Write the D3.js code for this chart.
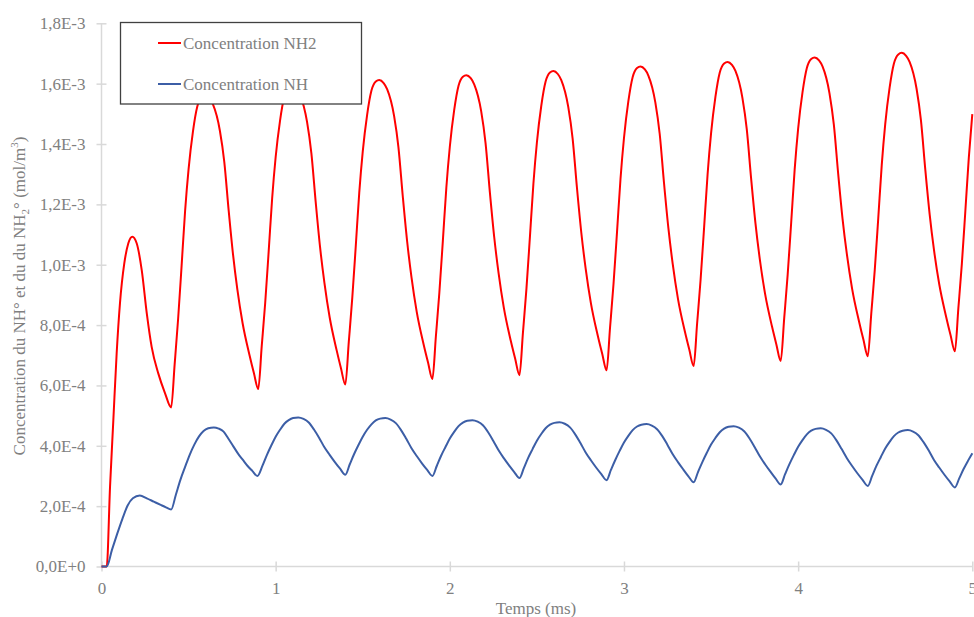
<!DOCTYPE html>
<html>
<head>
<meta charset="utf-8">
<script src="https://cdn.jsdelivr.net/npm/d3@7"></script>
<style>
  html, body { margin: 0; padding: 0; background: #fff; }
  svg { display: block; }
  text { font-family: "Liberation Serif", "DejaVu Serif", serif; }
</style>
</head>
<body>
<svg id="chart" width="974" height="617"></svg>
<script>
// ---- Data (time in ms, concentration in units of 1E-4 mol/m³) ----
const seriesNames = ["Concentration NH2", "Concentration NH"];
const xTicks = [0, 1, 2, 3, 4, 5];
const yTicks = [0, 2, 4, 6, 8, 10, 12, 14, 16, 18];
const yTickLabels = ["0,0E+0", "2,0E-4", "4,0E-4", "6,0E-4", "8,0E-4", "1,0E-3", "1,2E-3", "1,4E-3", "1,6E-3", "1,8E-3"];

const nh2 = [
  [0,0],[0.03,0],[0.049,2.64],[0.068,4.85],[0.087,7.06],[0.106,8.72],[0.131,10.05],[0.154,10.71],[0.177,10.93],[0.202,10.71],[0.231,9.82],[0.26,8.39],[0.288,7.28],[0.326,6.40],[0.365,5.74],[0.40,5.27],
  [0.42,6.70],[0.44,8.21],[0.46,9.97],[0.48,11.78],[0.50,13.17],[0.525,14.41],[0.55,15.24],[0.575,15.55],[0.595,15.6],[0.62,15.50],[0.64,15.31],[0.68,14.43],[0.705,13.41],[0.73,11.81],[0.755,10.35],[0.78,9.18],[0.81,8.07],[0.85,7.0],[0.875,6.41],[0.90,5.88],
  [0.92,7.30],[0.94,8.74],[0.96,10.45],[0.98,12.21],[1.00,13.57],[1.025,14.77],[1.05,15.58],[1.075,15.88],[1.095,15.93],[1.12,15.83],[1.14,15.63],[1.18,14.74],[1.205,13.70],[1.23,12.07],[1.255,10.58],[1.28,9.40],[1.31,8.26],[1.35,7.17],[1.375,6.57],[1.40,6.03],
  [1.42,7.45],[1.44,8.91],[1.46,10.62],[1.48,12.39],[1.50,13.75],[1.525,14.96],[1.55,15.77],[1.575,16.07],[1.595,16.12],[1.62,16.02],[1.64,15.82],[1.68,14.93],[1.705,13.89],[1.73,12.26],[1.755,10.77],[1.78,9.58],[1.81,8.44],[1.85,7.35],[1.875,6.76],[1.90,6.21],
  [1.92,7.63],[1.94,9.08],[1.96,10.79],[1.98,12.55],[2.00,13.91],[2.025,15.12],[2.05,15.93],[2.075,16.23],[2.095,16.28],[2.12,16.18],[2.14,15.98],[2.18,15.09],[2.205,14.04],[2.23,12.40],[2.255,10.91],[2.28,9.72],[2.31,8.58],[2.35,7.48],[2.375,6.89],[2.40,6.34],
  [2.42,7.76],[2.44,9.21],[2.46,10.93],[2.48,12.69],[2.50,14.05],[2.525,15.26],[2.55,16.07],[2.575,16.37],[2.595,16.42],[2.62,16.32],[2.64,16.12],[2.68,15.23],[2.705,14.19],[2.73,12.55],[2.755,11.06],[2.78,9.87],[2.81,8.73],[2.85,7.64],[2.875,7.05],[2.90,6.50],
  [2.92,7.92],[2.94,9.37],[2.96,11.08],[2.98,12.84],[3.00,14.20],[3.025,15.41],[3.05,16.22],[3.075,16.52],[3.095,16.57],[3.12,16.47],[3.14,16.27],[3.18,15.38],[3.205,14.34],[3.23,12.70],[3.255,11.21],[3.28,10.02],[3.31,8.87],[3.35,7.78],[3.375,7.19],[3.40,6.64],
  [3.42,8.06],[3.44,9.51],[3.46,11.23],[3.48,12.99],[3.50,14.35],[3.525,15.56],[3.55,16.37],[3.575,16.67],[3.595,16.72],[3.62,16.62],[3.64,16.42],[3.68,15.53],[3.705,14.49],[3.73,12.86],[3.755,11.37],[3.78,10.18],[3.81,9.04],[3.85,7.95],[3.875,7.36],[3.90,6.81],
  [3.92,8.23],[3.94,9.68],[3.96,11.39],[3.98,13.15],[4.00,14.51],[4.025,15.71],[4.05,16.52],[4.075,16.82],[4.095,16.87],[4.12,16.77],[4.14,16.57],[4.18,15.68],[4.205,14.64],[4.23,13.01],[4.255,11.52],[4.28,10.34],[4.31,9.20],[4.35,8.11],[4.375,7.51],[4.40,6.97],
  [4.42,8.39],[4.44,9.83],[4.46,11.54],[4.48,13.30],[4.50,14.66],[4.525,15.86],[4.55,16.67],[4.575,16.97],[4.595,17.02],[4.62,16.92],[4.64,16.72],[4.68,15.83],[4.705,14.79],[4.73,13.16],[4.755,11.68],[4.78,10.49],[4.81,9.36],[4.85,8.27],[4.875,7.67],[4.90,7.13],
  [4.92,8.56],[4.94,10.03],[4.96,11.77],[4.98,13.55],[5.00,14.99]
];

const nh = [
  [0,0],[0.03,0],[0.06,0.55],[0.09,1.08],[0.12,1.58],[0.15,2.02],[0.18,2.26],[0.22,2.35],[0.26,2.26],[0.30,2.15],[0.34,2.04],[0.37,1.96],[0.40,1.89],
  [0.427,2.38],[0.453,2.87],[0.48,3.30],[0.507,3.71],[0.533,4.04],[0.56,4.31],[0.586,4.49],[0.613,4.58],[0.645,4.61],[0.673,4.57],[0.701,4.47],[0.728,4.24],[0.756,3.99],[0.784,3.74],[0.812,3.53],[0.839,3.33],[0.867,3.16],[0.895,3.00],
  [0.925,3.35],[0.95,3.70],[0.975,4.01],[1.00,4.30],[1.025,4.53],[1.05,4.73],[1.075,4.85],[1.10,4.92],[1.13,4.94],[1.16,4.89],[1.19,4.77],[1.22,4.54],[1.25,4.26],[1.28,3.95],[1.31,3.70],[1.34,3.46],[1.37,3.24],[1.40,3.04],
  [1.425,3.38],[1.45,3.72],[1.475,4.02],[1.50,4.30],[1.525,4.53],[1.55,4.71],[1.575,4.84],[1.60,4.90],[1.63,4.92],[1.66,4.87],[1.69,4.75],[1.72,4.52],[1.75,4.23],[1.78,3.92],[1.81,3.66],[1.84,3.42],[1.87,3.20],[1.90,3.00],
  [1.925,3.33],[1.95,3.67],[1.975,3.96],[2.00,4.24],[2.025,4.46],[2.05,4.65],[2.075,4.77],[2.10,4.83],[2.13,4.85],[2.16,4.80],[2.19,4.68],[2.22,4.45],[2.25,4.16],[2.28,3.85],[2.31,3.59],[2.34,3.35],[2.37,3.13],[2.40,2.93],
  [2.425,3.26],[2.45,3.60],[2.475,3.89],[2.50,4.17],[2.525,4.39],[2.55,4.58],[2.575,4.70],[2.60,4.76],[2.63,4.78],[2.66,4.73],[2.69,4.61],[2.72,4.38],[2.75,4.09],[2.78,3.78],[2.81,3.52],[2.84,3.28],[2.87,3.06],[2.90,2.86],
  [2.925,3.20],[2.95,3.53],[2.975,3.83],[3.00,4.11],[3.025,4.33],[3.05,4.52],[3.075,4.64],[3.10,4.70],[3.13,4.72],[3.16,4.67],[3.19,4.55],[3.22,4.32],[3.25,4.03],[3.28,3.72],[3.31,3.46],[3.34,3.22],[3.37,2.99],[3.40,2.79],
  [3.425,3.13],[3.45,3.46],[3.475,3.76],[3.50,4.04],[3.525,4.26],[3.55,4.45],[3.575,4.57],[3.60,4.63],[3.63,4.65],[3.66,4.60],[3.69,4.48],[3.72,4.25],[3.75,3.96],[3.78,3.65],[3.81,3.39],[3.84,3.15],[3.87,2.92],[3.90,2.72],
  [3.925,3.06],[3.95,3.39],[3.975,3.69],[4.00,3.97],[4.025,4.19],[4.05,4.38],[4.075,4.50],[4.10,4.56],[4.13,4.58],[4.16,4.53],[4.19,4.41],[4.22,4.18],[4.25,3.89],[4.28,3.59],[4.31,3.33],[4.34,3.09],[4.37,2.87],[4.40,2.67],
  [4.425,3.00],[4.45,3.34],[4.475,3.63],[4.50,3.91],[4.525,4.13],[4.55,4.32],[4.575,4.44],[4.60,4.50],[4.63,4.52],[4.66,4.47],[4.69,4.35],[4.72,4.12],[4.75,3.84],[4.78,3.53],[4.81,3.28],[4.84,3.04],[4.87,2.82],[4.90,2.62],
  [4.925,2.92],[4.95,3.23],[4.975,3.50],[5.00,3.75]
];

// ---- Layout ----
const svg = d3.select("#chart");
const x0 = 101.5, x1 = 972.3, yBot = 566.5, yTop = 23.3;
const x = d3.scaleLinear().domain([0, 5]).range([x0, x1]);
const y = d3.scaleLinear().domain([0, 18]).range([yBot, yTop]);
const textColor = "#808080";
const axisColor = "#d9d9d9";

// Y axis
const yAxis = svg.append("g").attr("transform", `translate(${x0},0)`)
  .call(d3.axisLeft(y).tickValues(yTicks).tickSize(5).tickPadding(11)
        .tickFormat((d, i) => yTickLabels[i]));
yAxis.select(".domain").attr("stroke", axisColor).attr("stroke-width", 1.5).attr("d", `M0,${yBot}V${yTop}`);
yAxis.selectAll(".tick line").attr("stroke", axisColor).attr("stroke-width", 1.5).attr("x2", 5).attr("x1", -5);
yAxis.selectAll(".tick text").attr("fill", textColor).style("font-size", "17px")
  .style("font-family", "'Liberation Serif', serif");

// X axis
const xAxis = svg.append("g").attr("transform", `translate(0,${yBot})`)
  .call(d3.axisBottom(x).tickValues(xTicks).tickSize(5).tickPadding(10).tickFormat(d3.format("d")));
xAxis.select(".domain").attr("stroke", axisColor).attr("stroke-width", 1.5).attr("d", `M${x0},0H${x1}`);
xAxis.selectAll(".tick line").attr("stroke", axisColor).attr("stroke-width", 1.5).attr("y1", -5).attr("y2", 5);
xAxis.selectAll(".tick text").attr("fill", textColor).style("font-size", "17px")
  .style("font-family", "'Liberation Serif', serif");

// Axis titles
svg.append("text").attr("x", 536).attr("y", 614)
  .attr("text-anchor", "middle").attr("fill", textColor).style("font-size", "17px")
  .text("Temps (ms)");

const yt = svg.append("text")
  .attr("transform", "translate(25,296) rotate(-90)")
  .attr("text-anchor", "middle").attr("fill", textColor).style("font-size", "17px");
yt.append("tspan").text("Concentration du NH° et du du NH");
yt.append("tspan").attr("dy", 4).style("font-size", "11px").text("2");
yt.append("tspan").attr("dy", -4).text("° (mol/m");
yt.append("tspan").attr("dy", -7).style("font-size", "11px").text("3");
yt.append("tspan").attr("dy", 7).text(")");

// Lines
const line = d3.line().x(d => x(d[0])).y(d => y(d[1])).curve(d3.curveMonotoneX);
const colors = ["#ff0000", "#3c5ea6"];
[nh2, nh].forEach((s, i) => {
  svg.append("path").datum(s).attr("d", line)
    .attr("fill", "none").attr("stroke", colors[i]).attr("stroke-width", 2)
    .attr("stroke-linejoin", "round");
});

// Legend
const lg = svg.append("g");
lg.append("rect").attr("x", 120.5).attr("y", 22.5).attr("width", 241).attr("height", 81.5)
  .attr("fill", "#fff").attr("stroke", "#404040").attr("stroke-width", 1.3);
const legY = [43, 84];
seriesNames.forEach((n, i) => {
  lg.append("line").attr("x1", 158).attr("x2", 181).attr("y1", legY[i]).attr("y2", legY[i])
    .attr("stroke", colors[i]).attr("stroke-width", 2);
  lg.append("text").attr("x", 183).attr("y", legY[i] + 6).attr("fill", textColor)
    .style("font-size", "17px").text(n);
});
</script>
</body>
</html>
